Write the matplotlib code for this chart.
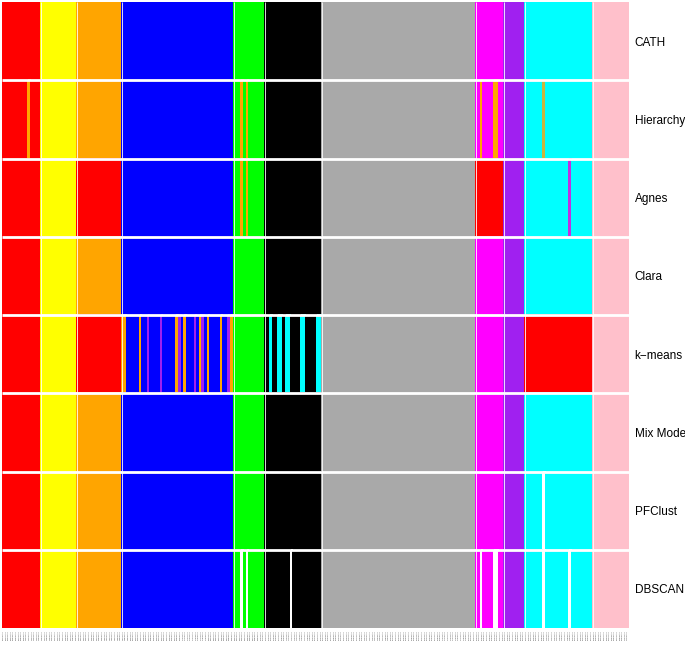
import numpy as np
import matplotlib
matplotlib.use("Agg")
from matplotlib import pyplot as plt
from matplotlib.colors import ListedColormap

# colour for each cluster label
cluster_colours = {
    "red": "#FF0000",
    "yellow": "#FFFF00",
    "orange": "#FFA500",
    "blue": "#0000FF",
    "green": "#00FF00",
    "black": "#000000",
    "gray": "#A9A9A9",
    "magenta": "#FF00FF",
    "purple": "#A020F0",
    "cyan": "#00FFFF",
    "pink": "#FFC0CB",
    "white": "#FFFFFF",
    "mustard": "#CDB43C",
    "violet": "#C030E0",
}

# reference (CATH) classes, in column order, and how many domains each has
cath_groups = ["red", "yellow", "orange", "blue", "green", "black",
               "gray", "magenta", "purple", "cyan", "pink"]
group_sizes = [15, 14, 17, 43, 12, 22, 59, 11, 8, 26, 14]

methods = ["CATH", "Hierarchy", "Agnes", "Clara", "k\u2212means",
           "Mix Model", "PFClust", "DBSCAN"]

# whole classes that a method gives another label
group_relabel = {
    "Agnes": {"orange": "red", "magenta": "red"},
    "k\u2212means": {"orange": "red", "cyan": "red"},
}

# single domains put elsewhere: (class, index inside class, label)
outliers = {
    "Hierarchy": [("red", 10, "orange"), ("green", 3, "orange"), ("green", 5, "orange"),
                  ("magenta", 2, "orange"), ("magenta", 7, "orange"), ("magenta", 8, "orange"),
                  ("cyan", 7, "mustard")],
    "Agnes": [("green", 3, "orange"), ("green", 5, "orange"), ("cyan", 17, "violet")],
    "k\u2212means": [("blue", 0, "orange"), ("blue", 1, "orange"), ("blue", 7, "orange"),
                     ("blue", 10, "purple"), ("blue", 15, "purple"), ("blue", 21, "orange"),
                     ("blue", 22, "purple"), ("blue", 24, "orange"), ("blue", 28, "purple"),
                     ("blue", 30, "orange"), ("blue", 31, "purple"), ("blue", 33, "orange"),
                     ("blue", 38, "orange"), ("blue", 41, "purple"), ("blue", 42, "orange"),
                     ("black", 2, "cyan"), ("black", 5, "cyan"), ("black", 6, "cyan"),
                     ("black", 8, "cyan"), ("black", 9, "cyan"), ("black", 14, "cyan"),
                     ("black", 15, "cyan"), ("black", 20, "cyan"), ("black", 21, "cyan")],
    "PFClust": [("cyan", 7, "white")],
    "DBSCAN": [("green", 3, "white"), ("green", 5, "white"), ("black", 10, "white"),
               ("magenta", 2, "white"), ("magenta", 7, "white"), ("magenta", 8, "white"),
               ("cyan", 7, "white"), ("cyan", 17, "white")],
}

n_cols = sum(group_sizes)
domain_ids = [f"{i + 1:03d}d{(i * 7) % 10}A0" for i in range(n_cols)]

palette = list(cluster_colours)
starts = dict(zip(cath_groups, np.concatenate([[0], np.cumsum(group_sizes)[:-1]])))

matrix = np.zeros((len(methods), n_cols), dtype=int)
for r, method in enumerate(methods):
    relabel = group_relabel.get(method, {})
    for g, size in zip(cath_groups, group_sizes):
        lab = relabel.get(g, g)
        matrix[r, starts[g]:starts[g] + size] = palette.index(lab)
    for g, k, lab in outliers.get(method, []):
        matrix[r, starts[g] + k] = palette.index(lab)

fig = plt.figure(figsize=(6.85, 6.45), dpi=100)
ax = fig.add_axes([2 / 685, 17 / 645, 627 / 685, 626 / 645])

cmap = ListedColormap([cluster_colours[c] for c in palette])
ax.pcolormesh(matrix, cmap=cmap, vmin=-0.5, vmax=len(palette) - 0.5,
              edgecolors="face", linewidth=0.2)
ax.set_xlim(0, n_cols)
ax.set_ylim(len(methods), 0)

# separators between methods and between CATH classes
ax.hlines(np.arange(1, len(methods)), 0, n_cols, color="white", linewidth=2)
ax.vlines(np.cumsum(group_sizes)[:-1], 0, len(methods), color="white", linewidth=0.7, alpha=0.85)

for s in ax.spines.values():
    s.set_visible(False)

ax.yaxis.tick_right()
ax.set_yticks(np.arange(len(methods)) + 0.5)
ax.set_yticklabels(methods, fontsize=8.5, family="Liberation Sans")
ax.tick_params(axis="y", length=0, pad=4)

ax.set_xticks(np.arange(n_cols) + 0.5)
ax.set_xticklabels(domain_ids, rotation=90, fontsize=1.6, color="#555555")
ax.tick_params(axis="x", length=0, pad=1.5)

fig.savefig("out.png", dpi=100)
